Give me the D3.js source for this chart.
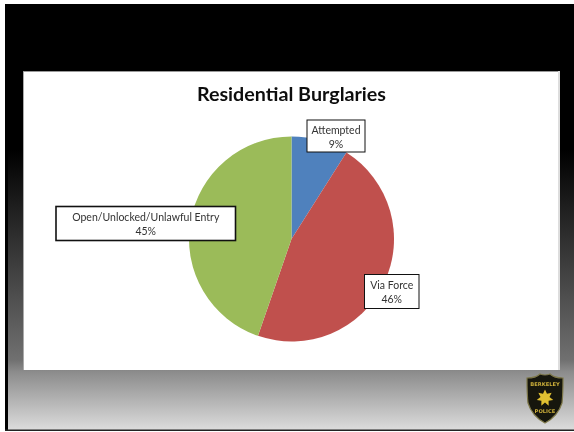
<!DOCTYPE html>
<html>
<head>
<meta charset='utf-8'>
<title>Residential Burglaries</title>
<style>
  html, body { margin: 0; padding: 0; background: #fff; }
  svg { display: block; }
</style>
</head>
<body>
<script src='https://d3js.org/d3.v7.min.js'></script>
<script>
const categories = ["Attempted", "Via Force", "Open/Unlocked/Unlawful Entry"];
const values = [9, 46.3, 44.7];
const colors = ["#4f81bd", "#c0504d", "#9bbb59"];
const title = "Residential Burglaries";

const width = 574, height = 432;
const cx = 291.5, cy = 239, radius = 102.5;

// label boxes, same order as categories
const boxes = [
  {x: 307, y: 120, w: 58, h: 32},
  {x: 364.5, y: 274.5, w: 54.5, h: 34},
  {x: 56, y: 206.5, w: 179.5, h: 34}
];

const svg = d3.select("body").append("svg")
    .attr("width", width)
    .attr("height", height);

const defs = svg.append("defs");
const grad = defs.append("linearGradient")
    .attr("id", "bg")
    .attr("gradientUnits", "userSpaceOnUse")
    .attr("x1", 0).attr("y1", 4).attr("x2", 0).attr("y2", 430);
// stops, the ramp is not linear
[[150, "#000"], [360, "#707070"], [372, "#8c8c8c"], [430, "#dcdcdc"]].forEach(s => {
  grad.append("stop").attr("offset", (s[0] - 4) / 426).attr("stop-color", s[1]);
});
defs.append("filter").attr("id", "soft")
    .append("feGaussianBlur").attr("stdDeviation", 0.4);

svg.append("rect")
    .attr("x", 5).attr("y", 4)
    .attr("width", width - 5).attr("height", 426)
    .attr("fill", "url(#bg)");
svg.append("rect")
    .attr("x", 5).attr("y", 4)
    .attr("width", 3).attr("height", 426)
    .attr("fill", "#000");
svg.append("rect")
    .attr("x", 5).attr("y", 429.5)
    .attr("width", width - 5).attr("height", 1.5)
    .attr("fill", "#222");

// chart panel
svg.append("rect")
    .attr("x", 23).attr("y", 71)
    .attr("width", 537).attr("height", 299)
    .attr("fill", "#fff");
svg.append("rect")
    .attr("x", 23).attr("y", 71)
    .attr("width", 1).attr("height", 299)
    .attr("fill", "#aaa");
svg.append("rect")
    .attr("x", 23).attr("y", 71)
    .attr("width", 537).attr("height", 1)
    .attr("fill", "#999");
svg.append("rect")
    .attr("x", 558).attr("y", 71)
    .attr("width", 2).attr("height", 299)
    .attr("fill", "#ddd");

svg.append("text")
    .attr("x", 291.5).attr("y", 100.5)
    .attr("text-anchor", "middle")
    .attr("font-family", "Lato, 'Open Sans', sans-serif")
    .attr("font-weight", 700)
    .attr("font-size", 19.7)
    .attr("fill", "#111")
    .attr("filter", "url(#soft)")
    .text(title);

const pie = d3.pie().sort(null);
const arc = d3.arc().innerRadius(0).outerRadius(radius);

svg.append("g")
    .attr("transform", `translate(${cx},${cy})`)
    .selectAll("path")
    .data(pie(values))
    .join("path")
    .attr("d", arc)
    .attr("fill", (d, i) => colors[i]);

const labels = svg.append("g")
    .selectAll("g")
    .data(categories)
    .join("g");

labels.append("rect")
    .attr("x", (d, i) => boxes[i].x)
    .attr("y", (d, i) => boxes[i].y)
    .attr("width", (d, i) => boxes[i].w)
    .attr("height", (d, i) => boxes[i].h)
    .attr("fill", "#fff")
    .attr("stroke", "#111")
    .attr("stroke-width", (d, i) => i == 2 ? 1.6 : 1);

labels.append("text")
    .attr("text-anchor", "middle")
    .attr("font-family", "Lato, 'Open Sans', sans-serif")
    .attr("font-size", 10.5)
    .attr("fill", "#333")
    .attr("filter", "url(#soft)")
    .each(function(d, i) {
      const t = d3.select(this);
      const mid = boxes[i].x + boxes[i].w / 2;
      t.append("tspan").attr("x", mid).attr("y", boxes[i].y + 14).text(d);
      t.append("tspan").attr("x", mid).attr("y", boxes[i].y + 28).text(Math.round(values[i]) + "%");
    });

// badge
const badge = svg.append("g")
    .attr("transform", "translate(545,398)")
    .attr("filter", "url(#soft)");
badge.append("path")
    .attr("d", "M-18,-20 Q-9,-20 -5,-24 Q0,-22 5,-24 Q9,-20 18,-20 Q18,-4 17,5 Q13,18 0,25 Q-13,18 -17,5 Q-18,-4 -18,-20Z")
    .attr("fill", "#15140c")
    .attr("stroke", "#7d7748")
    .attr("stroke-width", 1.2);
const star = d3.range(14).map(i => [i * Math.PI / 7, i % 2 ? 4.6 : 8.5]);
badge.append("path")
    .attr("d", d3.lineRadial().curve(d3.curveLinearClosed)(star))
    .attr("fill", "#e0c030");
badge.append("text")
    .attr("y", -12).attr("text-anchor", "middle")
    .attr("font-family", "'DejaVu Sans', sans-serif")
    .attr("font-weight", 700).attr("font-size", 5.2)
    .attr("fill", "#c9ad3a").text("BERKELEY");
badge.append("text")
    .attr("y", 14.5).attr("text-anchor", "middle")
    .attr("font-family", "'DejaVu Sans', sans-serif")
    .attr("font-weight", 700).attr("font-size", 5.2)
    .attr("fill", "#c9ad3a").text("POLICE");
</script>
</body>
</html>
